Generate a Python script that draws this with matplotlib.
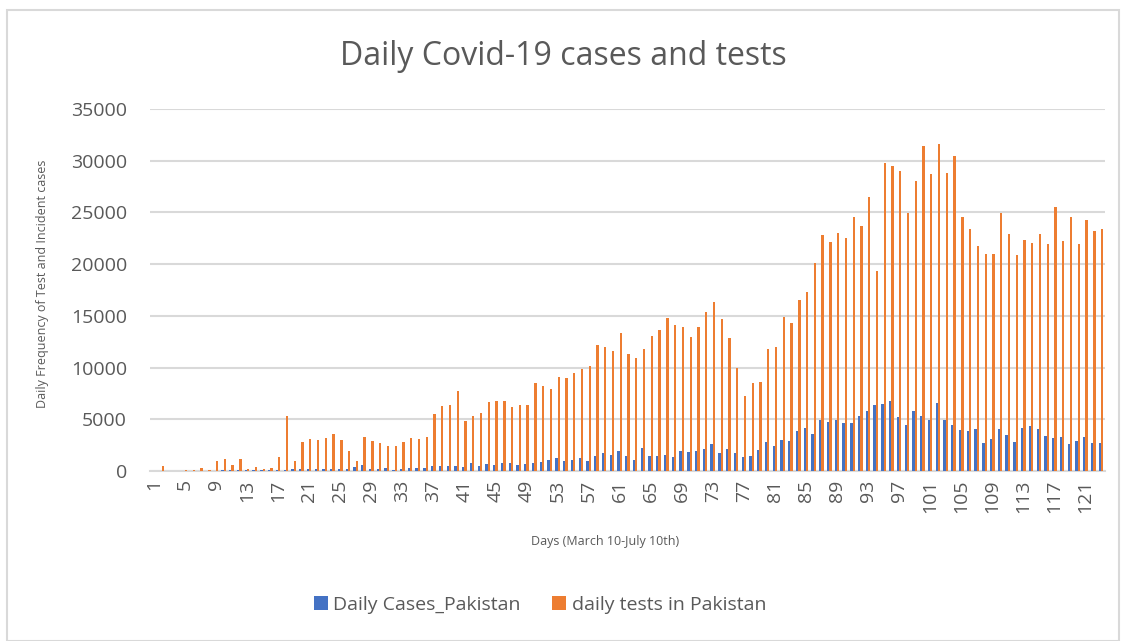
import matplotlib.pyplot as plt
import numpy as np
from matplotlib.patches import Rectangle

plt.rcParams['font.family'] = ['Open Sans', 'DejaVu Sans']

# day numbers, March 10 is day 1
days = list(range(1, 124))

# daily new cases
daily_cases = [1, 0, 3, 1, 2, 6, 5, 10, 22, 50,
               60, 80, 55, 135, 140, 85, 120, 130, 210, 150,
               180, 150, 225, 150, 200, 160, 390, 550, 160, 180,
               260, 130, 225, 290, 320, 260, 515, 450, 450, 480,
               355, 740, 480, 680, 580, 740, 740, 550, 710, 740,
               840, 1030, 1220, 930, 1030, 1260, 1000, 1480, 1710, 1580,
               1930, 1420, 1095, 2190, 1420, 1420, 1510, 1320, 1930, 1835,
               1900, 2160, 2580, 1710, 2125, 1710, 1320, 1420, 2030, 2770,
               2380, 2960, 2900, 3900, 4120, 3610, 4960, 4700, 4890, 4670,
               4600, 5350, 5760, 6340, 6440, 6790, 5180, 4410, 5760, 5310,
               4890, 6540, 4890, 4410, 3930, 3860, 4030, 2740, 3060, 4060,
               3480, 2800, 4120, 4310, 4060, 3350, 3160, 3280, 2640, 2930,
               3320, 2700, 2700]

# daily tests (orange bars)
daily_tests = [30, 450, 40, 30, 60, 120, 260, 60, 935, 1190,
               550, 1160, 160, 355, 225, 290, 1360, 5280, 1000, 2800,
               3120, 3030, 3160, 3540, 2960, 1900, 930, 3250, 2930, 2670,
               2415, 2380, 2770, 3190, 3120, 3250, 5500, 6250, 6380, 7730,
               4830, 5310, 5570, 6670, 6790, 6730, 6180, 6340, 6340, 8470,
               8210, 7920, 9110, 8950, 9470, 9820, 10110, 12140, 11950, 11590,
               13360, 11330, 10920, 11820, 13040, 13650, 14780, 14140, 13880, 12910,
               13880, 15330, 16360, 14650, 12880, 9980, 7210, 8470, 8630, 11790,
               11980, 14910, 14330, 16490, 17320, 20120, 22770, 22120, 23020, 22570,
               24570, 23730, 26500, 19290, 29790, 29460, 29010, 24920, 28050, 31430,
               28750, 31590, 28790, 30460, 24540, 23350, 21800, 20990, 20990, 24960,
               22960, 20870, 22380, 22090, 22890, 21990, 25500, 22220, 24540, 21900,
               24310, 23220, 23410]

y_ticks = [0, 5000, 10000, 15000, 20000, 25000, 30000, 35000]

blue = '#4472C4'
orange = '#ED7D31'
grey_text = '#595959'

fig = plt.figure(figsize=(11.26, 6.41), dpi=100)
ax = fig.add_axes([0.1332, 0.2652, 0.848, 0.5648])

x = np.array(days)
w = 0.3
ax.bar(x - w / 2, daily_cases, width=w, color=blue, label='Daily Cases_Pakistan', zorder=3)
ax.bar(x + w / 2, daily_tests, width=w, color=orange, label='daily tests in Pakistan', zorder=3)

ax.set_xlim(0.5, len(days) + 0.5)
ax.set_ylim(0, 35000)
ax.set_yticks(y_ticks)
ax.set_yticklabels([str(v) for v in y_ticks])
# only every 4th day gets a label, like excel did
ax.set_xticks(days[::4])
ax.set_xticklabels([str(d) for d in days[::4]], rotation=90, va='top')

ax.grid(axis='y', color='#D9D9D9', linewidth=1.5, zorder=0)
for s in ['top', 'right', 'left']:
    ax.spines[s].set_visible(False)
ax.spines['bottom'].set_color('#D9D9D9')
ax.spines['bottom'].set_linewidth(1.5)
ax.tick_params(axis='both', length=0, labelsize=14, colors=grey_text)
ax.tick_params(axis='y', pad=16.5)
ax.tick_params(axis='x', pad=6)

fig.text(0.5, 0.912, 'Daily Covid-19 cases and tests', ha='center', va='center',
         fontsize=23, color=grey_text)
fig.text(0.038, 0.558, 'Daily Frequency of Test and Incident cases', rotation=90,
         ha='center', va='center', fontsize=9, color=grey_text)
fig.text(605 / 1126, 1 - 541 / 641, 'Days (March 10-July 10th)', ha='center', va='center',
         fontsize=9, color=grey_text)

leg = fig.legend(loc='center', bbox_to_anchor=(540 / 1126, 1 - 605 / 641), ncol=2,
                 frameon=False, fontsize=14, handlelength=0.7, handleheight=0.7,
                 handletextpad=0.3, columnspacing=1.6)
for t in leg.get_texts():
    t.set_color(grey_text)

# light border round the whole chart area
fig.patches.append(Rectangle((0.006, 0.0), 0.988, 0.985, transform=fig.transFigure,
                             fill=False, edgecolor='#D9D9D9', linewidth=1.5))

fig.savefig('out.png', dpi=100)
